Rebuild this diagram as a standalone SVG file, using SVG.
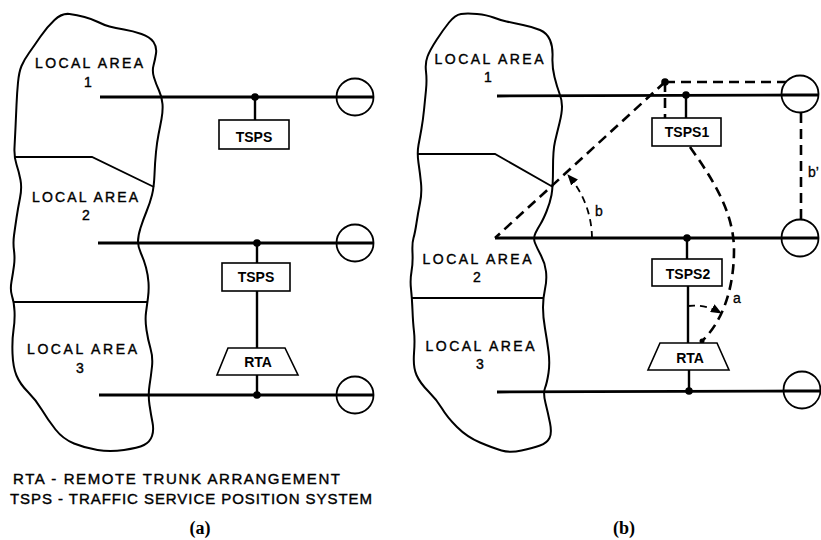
<svg xmlns="http://www.w3.org/2000/svg" width="821" height="540" viewBox="0 0 821 540">
<style>
.cloud{fill:none;stroke:#000;stroke-width:2;stroke-linejoin:round}
.div{fill:none;stroke:#000;stroke-width:1.8}
.trunk{fill:none;stroke:#000;stroke-width:2.8}
.stem{fill:none;stroke:#000;stroke-width:2.4}
.box{fill:#fff;stroke:#000;stroke-width:1.6}
.ring{fill:#fff;stroke:#000;stroke-width:1.8}
.dash{fill:none;stroke:#000;stroke-width:2.6;stroke-dasharray:10 6}
.dashs{fill:none;stroke:#000;stroke-width:1.8;stroke-dasharray:7 5}
.dot{fill:#000}
text{font-family:"Liberation Sans",Arial,sans-serif;fill:#000}
.la{font-size:14px;text-anchor:middle;stroke:#000;stroke-width:0.4}
.bx{font-size:14px;text-anchor:middle;font-weight:bold}
.lg{font-size:15px;stroke:#000;stroke-width:0.4}
.lbl{font-size:14px;stroke:#000;stroke-width:0.3}
.cap{font-family:"Liberation Serif","Times New Roman",serif;font-size:18px;font-weight:bold;text-anchor:middle}
</style>
<defs>
<marker id="ah" markerUnits="userSpaceOnUse" markerWidth="11" markerHeight="9" refX="10" refY="4.5" orient="auto">
<path d="M0,0 L11,4.5 L0,9 Z" fill="#000"/>
</marker>
</defs>

<!-- ===== Panel (a) ===== -->
<g id="a-cloud">
<path class="cloud" d="M54.5,20 Q62,13 69.5,14 Q77,15 84.5,17 Q92,19 98,22 Q104,25 109.5,26.5 Q115,28 124,29.5 Q133,31 141.5,34 Q150,37 153.5,42 Q157,47 156,53.5 Q155,60 153.5,65.5 Q152,71 154,77.5 Q156,84 159,90.5 Q162,97 162.5,104 Q163,111 161.5,119 Q160,127 158.5,134.5 Q157,142 156,152 Q155,162 154.5,174.5 Q154,187 152,195 Q150,203 146.5,211.5 Q143,220 140.5,228 Q138,236 138,241.5 Q138,247 141,253.5 Q144,260 146,267.5 Q148,275 148.5,282.5 Q149,290 148,297.5 Q147,305 146,312.5 Q145,320 146.5,330 Q148,340 150.5,348.5 Q153,357 152,366.5 Q151,376 149.5,385.5 Q148,395 149.5,405 Q151,415 152.5,422.5 Q154,430 152,436 Q150,442 144,445 Q138,448 124,450 Q110,452 97.5,450 Q85,448 74,443.5 Q63,439 55.5,429.5 Q48,420 42,410 Q36,400 28,392 Q20,384 16.5,375.5 Q13,367 12.5,353.5 Q12,340 13.5,330 Q15,320 14.5,311 Q14,302 12,296 Q10,290 11.5,281.5 Q13,273 14,265.5 Q15,258 14,250.5 Q13,243 14,235.5 Q15,228 16.5,218 Q18,208 20,198 Q22,188 20.5,180 Q19,172 16.5,164.5 Q14,157 14.5,147.5 Q15,138 15.5,127.5 Q16,117 16.5,105 Q17,93 18,82.5 Q19,72 21.5,66 Q24,60 29,53 Q34,46 40.5,36.5 Q47,27 54.5,20 Z"/>
<path class="div" d="M14,157 L92,157 L154,187"/>
<path class="div" d="M14,302 L148,302"/>
<text class="la" x="89" y="68" textLength="108" lengthAdjust="spacing">LOCAL AREA</text>
<text class="la" x="88" y="87">1</text>
<text class="la" x="85" y="202" textLength="106" lengthAdjust="spacing">LOCAL AREA</text>
<text class="la" x="86" y="220">2</text>
<text class="la" x="82" y="354" textLength="110" lengthAdjust="spacing">LOCAL AREA</text>
<text class="la" x="80" y="373">3</text>
</g>

<g id="a-connectors">
<path class="trunk" d="M100,97 L373,97"/>
<path class="trunk" d="M98,243 L373,243"/>
<path class="trunk" d="M99,395 L373,395"/>
<path class="stem" d="M255,97 L255,120"/>
<path class="stem" d="M257,243 L257,263 M257,291 L257,348 M257,375 L257,395"/>
</g>

<g id="a-junctions">
<circle class="dot" cx="255" cy="97" r="3.8"/>
<circle class="dot" cx="257" cy="243" r="3.8"/>
<circle class="dot" cx="257" cy="395" r="3.8"/>
</g>

<g id="a-tsps1"><rect class="box" x="219" y="120" width="70" height="29"/><text class="bx" x="254" y="142">TSPS</text></g>
<g id="a-tsps2"><rect class="box" x="222" y="263" width="68" height="28"/><text class="bx" x="256" y="282">TSPS</text></g>
<g id="a-rta"><path class="box" d="M228,348 L285,348 L298,375 L217,375 Z"/><text class="bx" x="258" y="367">RTA</text></g>
<g id="a-office1"><circle class="ring" cx="355" cy="97" r="18.5"/><path class="trunk" d="M336,97 L373,97"/></g>
<g id="a-office2"><circle class="ring" cx="355" cy="243" r="18.5"/><path class="trunk" d="M336,243 L373,243"/></g>
<g id="a-office3"><circle class="ring" cx="355" cy="395" r="18.5"/><path class="trunk" d="M336,395 L373,395"/></g>

<g id="legend">
<text class="lg" x="13" y="484" textLength="327" lengthAdjust="spacing">RTA - REMOTE TRUNK ARRANGEMENT</text>
<text class="lg" x="10" y="504" textLength="362" lengthAdjust="spacing">TSPS - TRAFFIC SERVICE POSITION SYSTEM</text>
<text class="cap" x="200" y="534">(a)</text>
</g>

<!-- ===== Panel (b) ===== -->
<g id="b-cloud">
<path class="cloud" d="M449,22.5 Q455,15 461,14 Q467,13 477,14 Q487,15 493.5,17.5 Q500,20 506.5,21.5 Q513,23 523,25 Q533,27 540,30 Q547,33 550,40 Q553,47 552.5,57 Q552,67 554.5,77 Q557,87 559.5,93.5 Q562,100 562,106.5 Q562,113 559.5,123 Q557,133 555,141.5 Q553,150 553,168.5 Q553,187 551.5,195 Q550,203 546.5,211.5 Q543,220 540.5,224 Q538,228 535.5,233 Q533,238 535,243 Q537,248 541,255.5 Q545,263 546,271.5 Q547,280 545,289 Q543,298 543,307.5 Q543,317 545,328.5 Q547,340 548.5,351.5 Q550,363 548.5,373 Q547,383 545,388 Q543,393 545.5,403 Q548,413 550,423 Q552,433 549.5,438 Q547,443 540,445.5 Q533,448 521.5,450.5 Q510,453 501.5,450.5 Q493,448 480,442.5 Q467,437 457,427 Q447,417 442,408.5 Q437,400 428.5,391.5 Q420,383 416.5,375 Q413,367 414,353.5 Q415,340 414,331.5 Q413,323 412.5,310.5 Q412,298 411,289 Q410,280 411.5,271.5 Q413,263 412.5,253 Q412,243 413.5,238 Q415,233 416.5,223 Q418,213 420,203 Q422,193 421,183 Q420,173 418.5,163 Q417,153 418.5,145 Q420,137 421.5,128.5 Q423,120 424,110 Q425,100 426,90 Q427,80 426,71.5 Q425,63 427.5,56.5 Q430,50 436.5,40 Q443,30 449,22.5 Z"/>
<path class="div" d="M417,154 L495,154 L553,187"/>
<path class="div" d="M412,298 L543,298"/>
<text class="la" x="489" y="64" textLength="109" lengthAdjust="spacing">LOCAL AREA</text>
<text class="la" x="488" y="82">1</text>
<text class="la" x="477" y="264" textLength="109" lengthAdjust="spacing">LOCAL AREA</text>
<text class="la" x="477" y="282">2</text>
<text class="la" x="480" y="351" textLength="109" lengthAdjust="spacing">LOCAL AREA</text>
<text class="la" x="480" y="369">3</text>
</g>

<g id="b-connectors">
<path class="trunk" d="M497,96 L818,95"/>
<path class="trunk" d="M495,238 L818,238"/>
<path class="trunk" d="M497,392 L820,391"/>
<path class="stem" d="M686,95 L686,118"/>
<path class="stem" d="M687,238 L687,259 M688,286 L688,343 M689,370 L689,391"/>
<path class="dash" d="M665,82 L495,238"/>
<path class="dash" d="M665,82 L786,82"/>
<path class="dash" d="M665,82 L665,118"/>
<path class="dash" d="M801,113 L801,220"/>
<path class="dash" d="M690,147 C712,178 734,212 734,250 C734,290 722,322 702,341"/>
<path class="dashs" d="M592,238 A97,97 0 0 0 568,175" marker-end="url(#ah)"/>
<path class="dashs" d="M688,306 Q705,304 721,313" marker-end="url(#ah)"/>
<text class="lbl" x="595" y="216">b</text>
<text class="lbl" x="808" y="177">b’</text>
<text class="lbl" x="733" y="303">a</text>
</g>

<g id="b-junctions">
<circle class="dot" cx="686" cy="95" r="3.8"/>
<circle class="dot" cx="665" cy="82" r="3.8"/>
<circle class="dot" cx="687" cy="238" r="3.8"/>
<circle class="dot" cx="689" cy="391" r="3.8"/>
<circle class="dot" cx="702" cy="341" r="2.5"/>
</g>

<g id="b-tsps1"><rect class="box" x="652" y="118" width="69" height="28"/><text class="bx" x="687" y="137">TSPS1</text></g>
<g id="b-tsps2"><rect class="box" x="652" y="259" width="70" height="27"/><text class="bx" x="688" y="279">TSPS2</text></g>
<g id="b-rta"><path class="box" d="M660,343 L717,343 L729,370 L648,370 Z"/><text class="bx" x="690" y="363">RTA</text></g>
<g id="b-office1"><circle class="ring" cx="800" cy="94" r="18.5"/><path class="trunk" d="M781,95 L818,95"/></g>
<g id="b-office2"><circle class="ring" cx="800" cy="238" r="18.5"/><path class="trunk" d="M781,238 L818,238"/></g>
<g id="b-office3"><circle class="ring" cx="802" cy="390" r="18.5"/><path class="trunk" d="M783,391 L820,391"/></g>

<g id="caption-b"><text class="cap" x="624" y="534">(b)</text></g>
</svg>
